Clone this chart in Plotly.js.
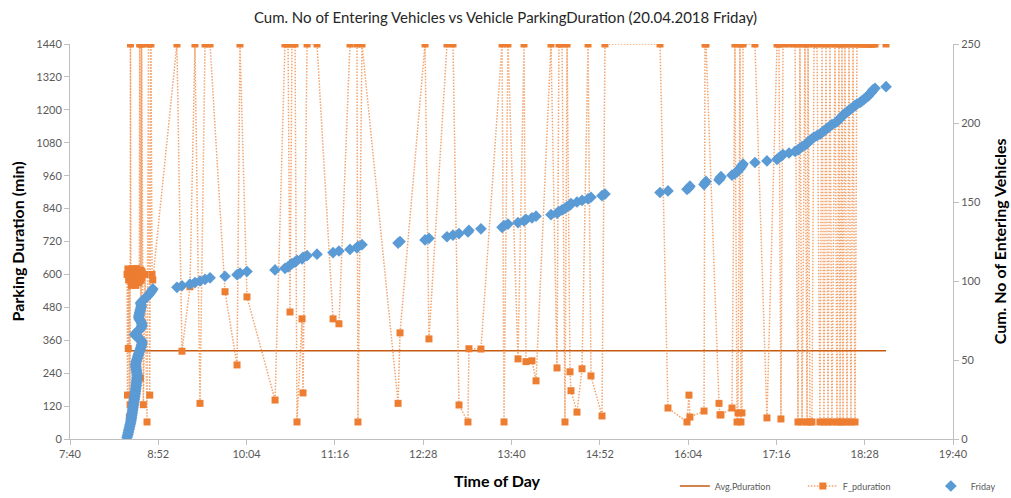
<!DOCTYPE html>
<html>
<head>
<meta charset="utf-8">
<script src="https://cdn.plot.ly/plotly-3.0.1.min.js"></script>
<style>html,body{margin:0;padding:0;background:#fff;}#chart{width:1011px;height:498px;}</style>
</head>
<body>
<div id="chart"></div>
<script>
// Entry time of each vehicle, minutes after midnight
const entryMinutes = [
506.5,506.9,507.2,507.5,507.8,508.1,508.4,508.7,509.0,509.3,
509.6,509.8,510.0,510.2,510.4,510.6,510.8,511.0,511.2,511.4,
511.6,511.8,512.0,512.2,512.4,512.6,512.8,513.0,513.2,513.4,
513.5,513.7,513.8,514.0,514.1,514.2,514.4,514.5,514.6,514.7,
514.6,514.4,514.2,514.0,513.8,513.6,513.5,513.7,514.0,514.4,
514.8,515.2,515.6,516.0,516.5,517.0,517.4,517.8,518.2,518.5,
518.7,518.5,517.5,516.0,514.0,512.8,513.5,515.0,516.5,517.8,
518.4,518.7,518.5,518.0,517.2,516.4,516.0,516.2,516.5,516.8,
517.1,517.4,517.8,518.2,518.0,517.5,518.5,519.8,521.2,522.8,
524.0,525.0,526.0,526.9,527.5,
547.2,551.3,557.8,561.9,566.0,570.1,574.2,586.4,596.2,598.6,
604.3,627.2,635.3,637.8,639.4,641.0,643.5,645.1,649.2,650.0,
653.3,661.4,674.5,679.3,688.3,694.0,694.8,698.1,727.5,729.1,
749.5,752.7,767.4,772.3,777.2,784.5,785.3,795.1,812.3,813.9,
817.1,825.3,830.2,831.8,836.7,840.0,852.2,857.1,858.7,861.2,
863.6,865.3,867.7,868.5,873.4,877.5,882.4,884.8,893.8,896.2,
941.1,947.6,963.1,964.7,965.5,977.0,977.8,978.6,989.2,990.0,
990.8,999.8,1002.2,1003.9,1004.7,1006.3,1007.1,1007.9,1008.8,1018.5,
1028.3,1036.5,1038.1,1039.7,1041.4,1046.3,1051.2,1053.6,1055.2,1056.9,
1059.3,1061.0,1061.8,1063.4,1065.0,1066.7,1069.1,1071.5,1073.2,1074.8,
1076.4,1078.1,1079.7,1081.3,1083.8,1085.4,1087.0,1087.9,1089.5,1090.3,
1091.9,1093.6,1095.2,1096.8,1098.5,1100.1,1101.7,1104.2,1105.8,1107.4,
1109.1,1110.7,1111.5,1113.1,1114.0,1114.8,1116.4,1125.4
];

// Parking duration of each vehicle (min)
const parkingDuration = [
600,160,620,330,580,610,80,600,125,1440,
590,615,560,600,620,585,600,605,570,610,
595,620,600,575,610,590,580,615,600,595,
600,560,595,610,585,620,600,570,605,590,
615,600,580,610,595,600,600,585,620,605,
575,600,610,590,600,615,580,600,1440,595,
610,590,600,575,620,600,585,610,600,590,
605,605,600,580,615,595,600,570,610,1440,
600,585,615,330,590,222,1440,125,600,62,
1440,160,1440,600,580,
1440,320,555,1440,130,1440,1440,537,270,1440,
518,142,1440,1440,463,1440,1440,62,438,168,
1440,1440,438,420,1440,1440,62,1440,130,387,
1440,365,1440,1440,124,62,329,328,1440,62,
1440,292,1440,282,285,212,1440,259,1440,1440,
62,1440,245,176,98,256,1440,230,84,1440,
1440,113,62,160,80,102,1440,1440,130,88,
88,113,1440,62,95,1440,62,95,1440,1440,
77,1440,1440,73,1440,1440,1440,62,1440,62,
1440,62,1440,62,62,1440,1440,62,1440,62,
1440,62,1440,62,1440,62,1440,62,1440,62,
1440,62,1440,62,1440,62,1440,1440,1440,1440,
1440,1440,1440,1440,1440,1440,1440,1440
];

// Cumulative number of entering vehicles (Friday)
const cumVehicles = [
1,2,3,4,5,6,7,8,9,10,11,12,13,14,15,16,17,18,19,20,
21,22,23,24,25,26,27,28,29,30,31,32,33,34,35,36,37,38,39,40,
41,42,43,44,45,46,47,48,49,50,51,52,53,54,55,56,57,58,59,60,
61,62,63,64,65,66,67,68,69,70,71,72,73,74,75,76,77,78,79,80,
81,82,83,84,85,86,87,88,89,90,91,92,93,94,95,96,97,98,99,100,
101,102,103,104,105,106,107,108,109,110,111,112,113,114,115,116,117,118,119,120,
121,122,123,124,125,126,127,128,129,130,131,132,133,134,135,136,137,138,139,140,
141,142,143,144,145,146,147,148,149,150,151,152,153,154,155,156,157,158,159,160,
161,162,163,164,165,166,167,168,169,170,171,172,173,174,175,176,177,178,179,180,
181,182,183,184,185,186,187,188,189,190,191,192,193,194,195,196,197,198,199,200,
201,202,203,204,205,206,207,208,209,210,211,212,213,214,215,216,217,218,219,220,
221,222,223
];

const avgDuration = 322;

const xTickVals = [460,532,604,676,748,820,892,964,1036,1108,1180];
const xTickText = ["7:40","8:52","10:04","11:16","12:28","13:40","14:52","16:04","17:16","18:28","19:40"];

const FONT = "Lato, 'Noto Sans', sans-serif";
const axisCommon = {
  showgrid:false, zeroline:false, showline:true, linecolor:'#BFBFBF', linewidth:1,
  ticks:'outside', ticklen:5, tickcolor:'#BFBFBF', tickwidth:1, automargin:false,
  tickfont:{family:FONT, size:11, color:'#595959'}, fixedrange:true
};

const traces = [
  {
    name:'Avg.Pduration', type:'scatter', mode:'lines',
    x: entryMinutes, y: entryMinutes.map(() => avgDuration),
    line:{color:'#C55A11', width:1.5}, xaxis:'x', yaxis:'y'
  },
  {
    name:'F_pduration', type:'scatter', mode:'lines+markers',
    x: entryMinutes, y: parkingDuration,
    line:{color:'rgba(237,125,49,0.7)', width:1.5, dash:'1.5px,1.5px'},
    marker:{symbol:'square', size:7, color:'#ED7D31'}, xaxis:'x', yaxis:'y'
  },
  {
    name:'Friday', type:'scatter', mode:'markers',
    x: entryMinutes, y: cumVehicles,
    marker:{symbol:'diamond', size:9, color:'#5B9BD5'}, xaxis:'x', yaxis:'y2'
  }
];

const layout = {
  width:1011, height:498,
  margin:{l:70, r:58, t:44, b:59, autoexpand:false},
  paper_bgcolor:'#fff', plot_bgcolor:'#fff',
  font:{family:FONT, color:'#595959'},
  showlegend:true,
  title:{text:'Cum. No of Entering Vehicles vs Vehicle ParkingDuration (20.04.2018 Friday)',
    font:{family:FONT, size:15, color:'#262626'}, x:0.5, xanchor:'center', y:0.964, yanchor:'middle'},
  xaxis: Object.assign({}, axisCommon, {range:[460,1180], tickmode:'array', tickvals:xTickVals, ticktext:xTickText}),
  yaxis: Object.assign({}, axisCommon, {range:[0,1440], dtick:120, tick0:0}),
  yaxis2: Object.assign({}, axisCommon, {range:[0,250], dtick:50, tick0:0, overlaying:'y', side:'right'}),
  legend:{orientation:'h', x:0.685, xanchor:'left', y:-0.119, yanchor:'middle',
    font:{family:FONT, size:9, color:'#595959'}, itemwidth:30, entrywidth:83, entrywidthmode:'pixels',
    bgcolor:'rgba(0,0,0,0)'},
  annotations:[
    {text:'<b>Parking Duration (min)</b>', xref:'paper', yref:'paper', x:-0.059, y:0.5, textangle:-90,
      showarrow:false, xanchor:'center', yanchor:'middle', font:{family:FONT, size:16, color:'#000'}},
    {text:'<b>Cum. No of Entering Vehicles</b>', xref:'paper', yref:'paper', x:1.053, y:0.5, textangle:-90,
      showarrow:false, xanchor:'center', yanchor:'middle', font:{family:FONT, size:16, color:'#000'}},
    {text:'<b>Time of Day</b>', xref:'paper', yref:'paper', x:0.4836, y:-0.106,
      showarrow:false, xanchor:'center', yanchor:'middle', font:{family:FONT, size:16, color:'#000'}}
  ]
};

Plotly.newPlot('chart', traces, layout, {displayModeBar:false, staticPlot:true});
</script>
</body>
</html>
